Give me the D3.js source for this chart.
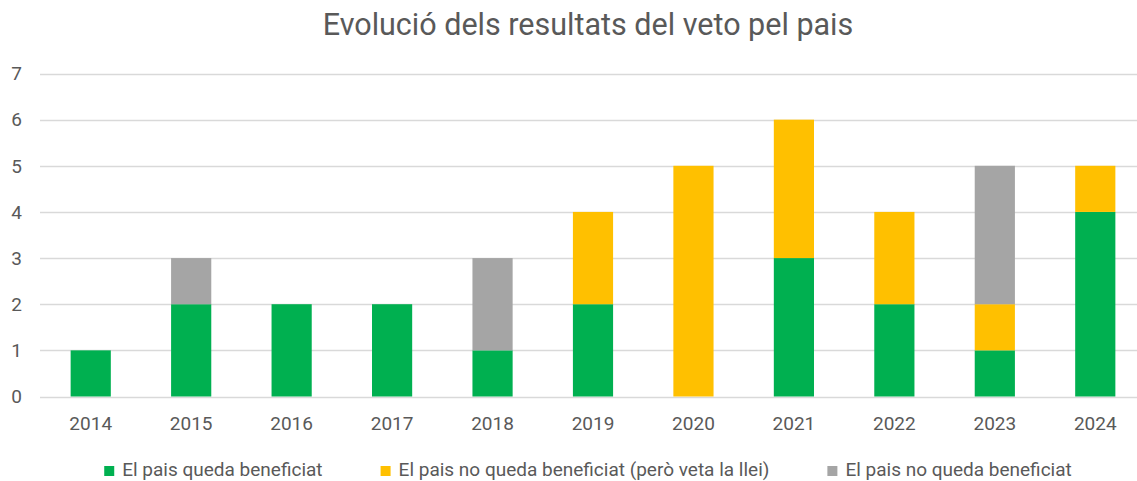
<!DOCTYPE html>
<html>
<head>
<meta charset="utf-8">
<script src="https://cdn.jsdelivr.net/npm/d3@7"></script>
<style>
  body { margin: 0; background: #fff; }
  text { font-family: Roboto, "Noto Sans", sans-serif; fill: #595959; }
</style>
</head>
<body>
<script>
// chart values
var years = ["2014", "2015", "2016", "2017", "2018", "2019", "2020", "2021", "2022", "2023", "2024"];
var beneficiat = [1, 2, 2, 2, 1, 2, 0, 3, 2, 1, 4];
var vetaLlei = [0, 0, 0, 0, 0, 2, 5, 3, 2, 1, 1];
var noBeneficiat = [0, 1, 0, 0, 2, 0, 0, 0, 0, 3, 0];
var yTicks = [0, 1, 2, 3, 4, 5, 6, 7];
var seriesNames = ["El pais queda beneficiat", "El pais no queda beneficiat (però veta la llei)", "El pais no queda beneficiat"];
var colors = ["#00b050", "#ffc000", "#a5a5a5"];

var width = 1137, height = 481;
var svg = d3.select("body").append("svg")
    .attr("width", width)
    .attr("height", height);

// build rows for the stack
var rows = years.map(function(y, i) {
  return {year: y, a: beneficiat[i], b: vetaLlei[i], c: noBeneficiat[i]};
});
var stack = d3.stack().keys(["a", "b", "c"])(rows);

var xScale = d3.scaleBand()
    .domain(years)
    .range([40.5, 1145.5])
    .paddingInner(0.6)
    .paddingOuter(0.3);

var yScale = d3.scaleLinear()
    .domain([0, 7])
    .range([396.5, 73.5]);

// gridlines
svg.append("g")
  .selectAll("line")
  .data(yTicks)
  .enter()
  .append("line")
    .attr("x1", 40)
    .attr("x2", width)
    .attr("y1", d => Math.round(yScale(d)) + 0.5)
    .attr("y2", d => Math.round(yScale(d)) + 0.5)
    .attr("stroke", "#d9d9d9")
    .attr("stroke-width", 1.5);

// y tick labels
svg.append("g")
  .selectAll("text")
  .data(yTicks)
  .enter()
  .append("text")
    .attr("x", 16.5)
    .attr("y", d => yScale(d))
    .attr("dy", "0.36em")
    .attr("text-anchor", "middle")
    .style("font-size", "19px")
    .text(d => d);

// bars
svg.append("g")
  .selectAll("g")
  .data(stack)
  .enter()
  .append("g")
    .attr("fill", (d, i) => colors[i])
  .selectAll("rect")
  .data(d => d)
  .enter()
  .append("rect")
    .attr("x", d => xScale(d.data.year))
    .attr("width", xScale.bandwidth())
    .attr("y", d => yScale(d[1]))
    .attr("height", d => yScale(d[0]) - yScale(d[1]));

// x labels
svg.append("g")
  .selectAll("text")
  .data(years)
  .enter()
  .append("text")
    .attr("x", d => xScale(d) + xScale.bandwidth() / 2)
    .attr("y", 430)
    .attr("text-anchor", "middle")
    .style("font-size", "19px")
    .text(d => d);

// title
svg.append("text")
    .attr("x", 588)
    .attr("y", 35)
    .attr("text-anchor", "middle")
    .style("font-size", "30.5px")
    .text("Evolució dels resultats del veto pel pais");

// legend, centred under the chart
var legend = svg.append("g");
var items = legend.selectAll("g")
  .data(seriesNames)
  .enter()
  .append("g");
items.append("rect")
    .attr("width", 10)
    .attr("height", 10)
    .attr("y", 466)
    .attr("fill", (d, i) => colors[i]);
items.append("text")
    .attr("x", 18)
    .attr("y", 476)
    .style("font-size", "19px")
    .text(d => d);

var gap = 58;
var widths = [];
items.each(function() { widths.push(this.getBBox().width); });
var total = d3.sum(widths) + gap * (widths.length - 1);
var xPos = 588 - total / 2;
items.attr("transform", function(d, i) {
  var t = "translate(" + xPos + ",0)";
  xPos += widths[i] + gap;
  return t;
});
</script>
</body>
</html>
